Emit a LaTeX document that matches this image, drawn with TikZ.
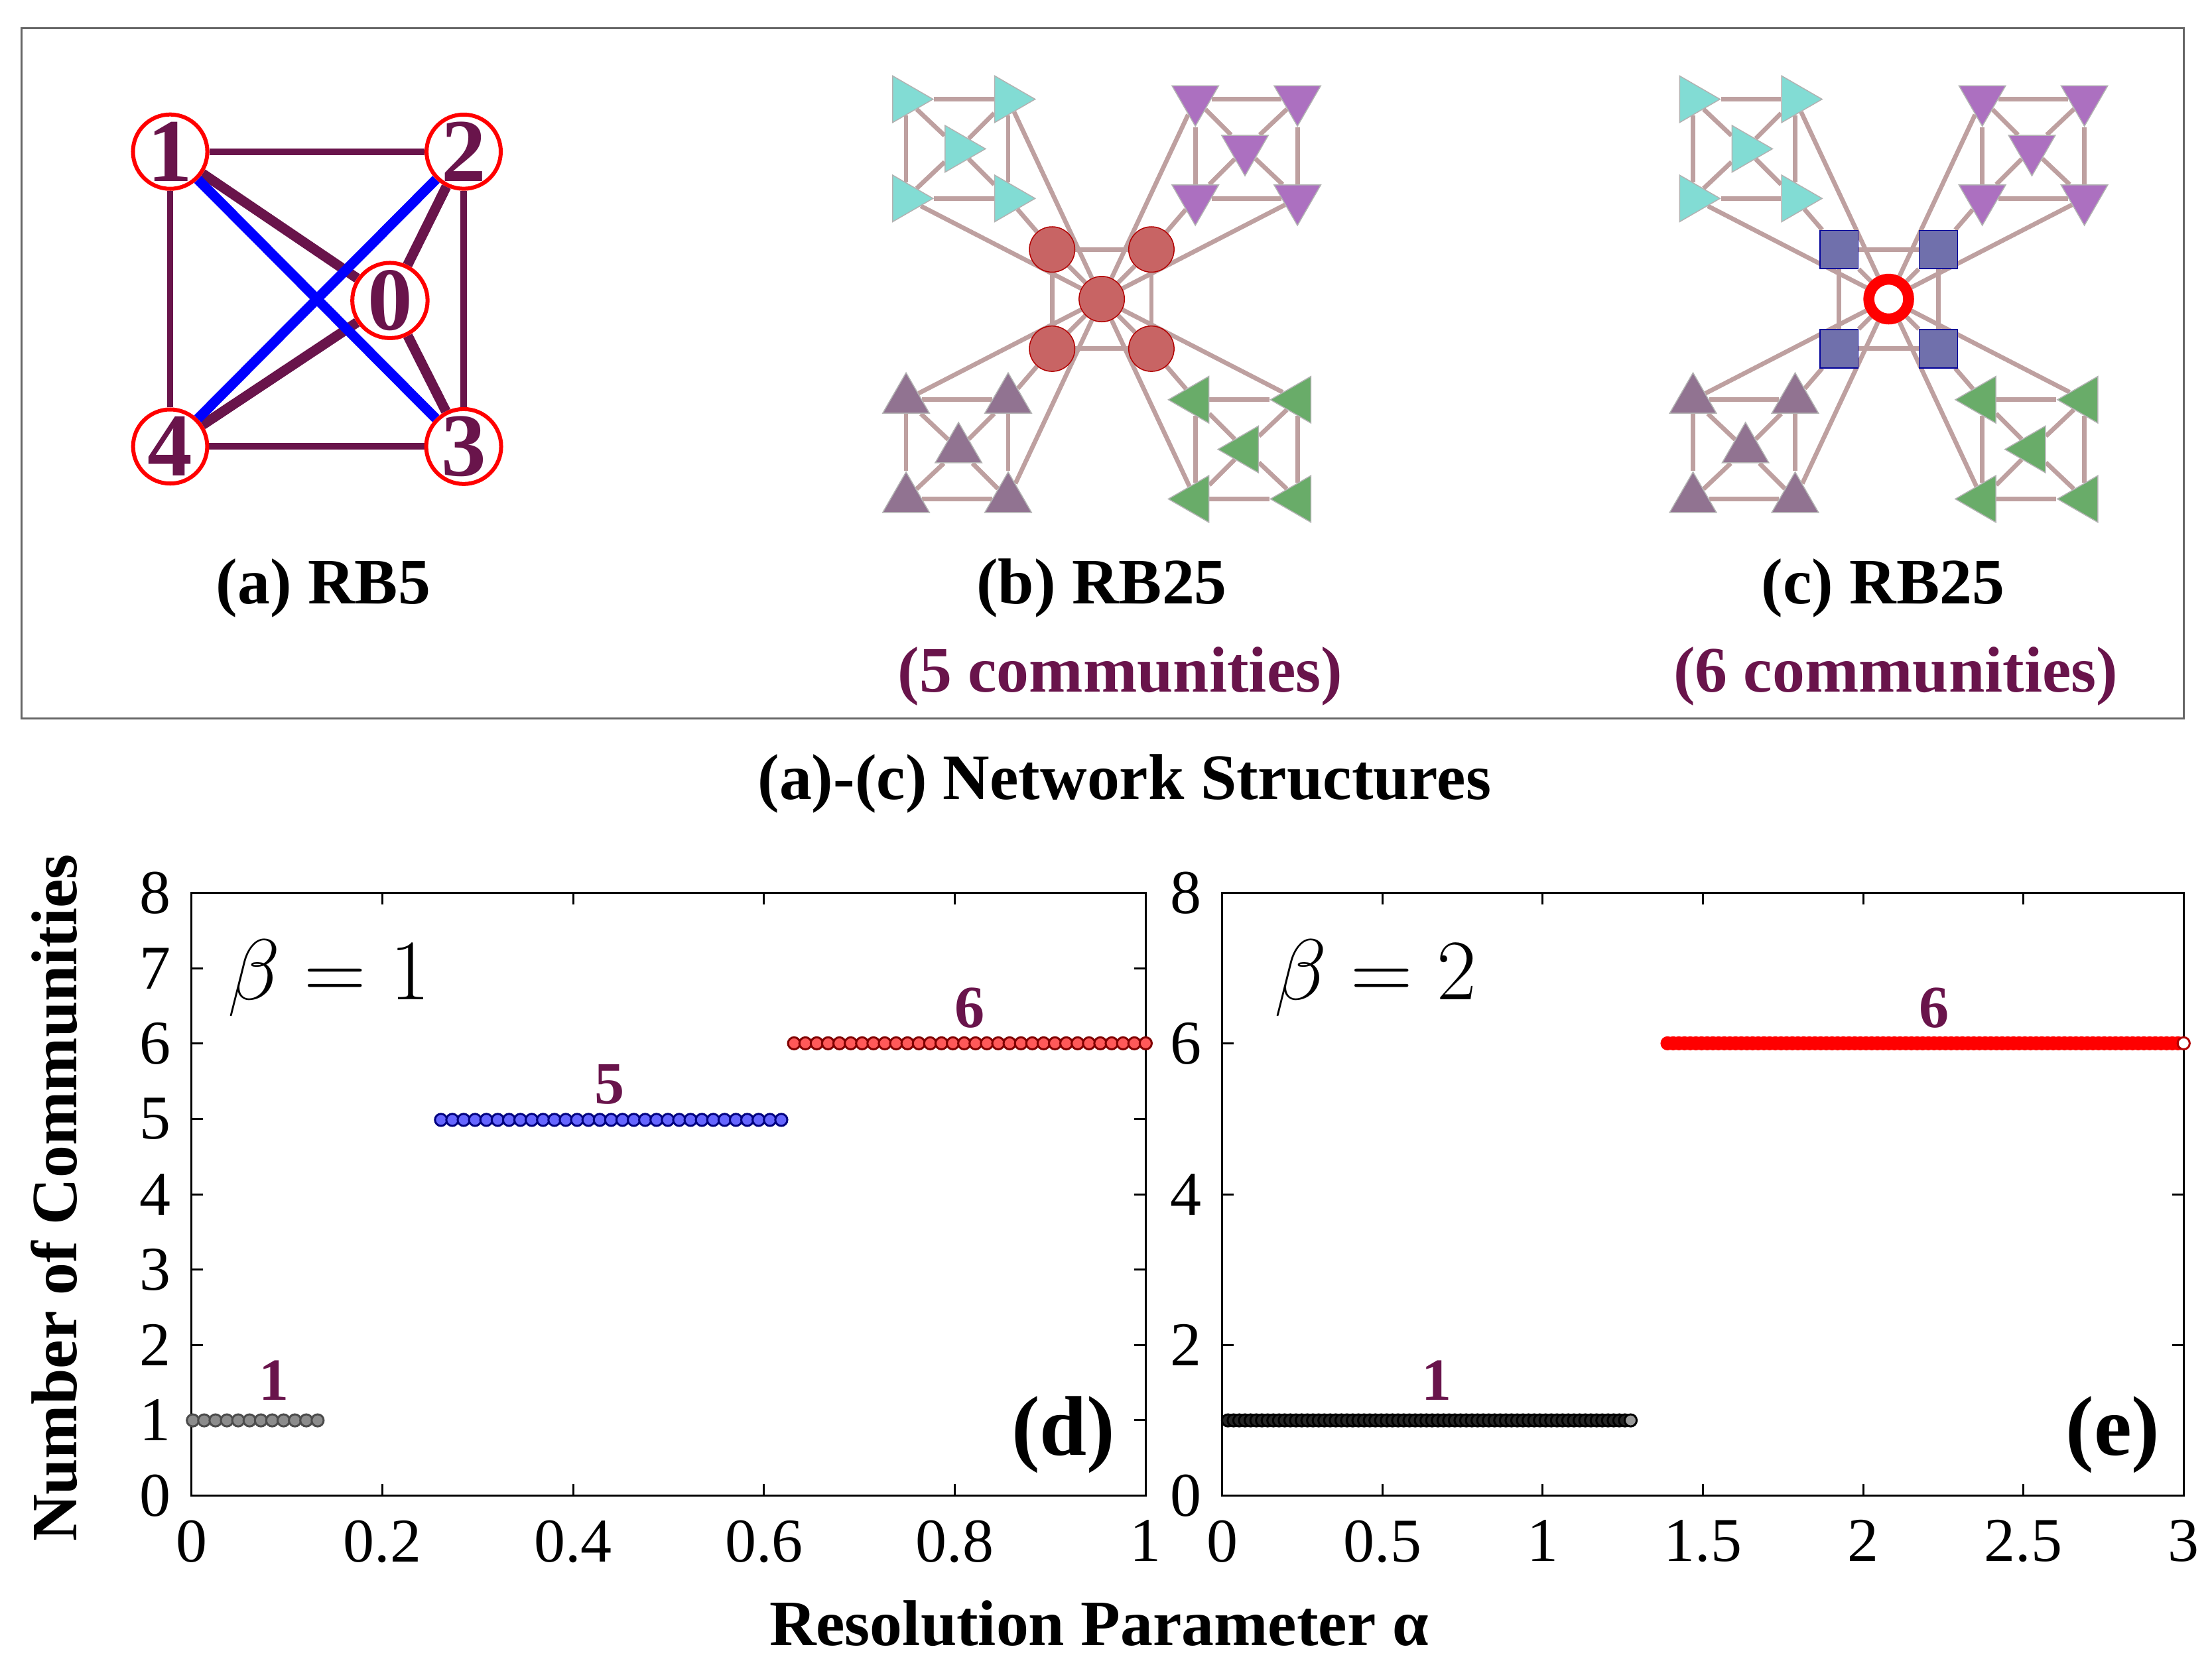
\documentclass[tikz,border=0pt]{standalone}
\usepackage{fontspec}
\setmainfont{Liberation Serif}
\usetikzlibrary{shapes.geometric,backgrounds}
\definecolor{plum}{RGB}{105,20,75}
\definecolor{edgepink}{RGB}{190,160,160}
\definecolor{cyantri}{RGB}{130,220,212}
\definecolor{violettri}{RGB}{172,112,192}
\definecolor{mauvetri}{RGB}{145,115,145}
\definecolor{greentri}{RGB}{105,172,105}
\definecolor{hubred}{RGB}{200,100,100}
\definecolor{hubblue}{RGB}{112,112,172}
\def\ymid{211}

% one RB25 network: prefix, centre x, hub style, centre style
\newcommand{\rbnet}[4]{%
    \node[#4] (#1-c) at (#2,\ymid) {};
    \foreach \q/\sx/\sy/\rot/\col in {1/-1/-1/-90/cyantri,2/1/-1/180/violettri,3/-1/1/0/mauvetri,4/1/1/90/greentri}{
        \node[#3] (#1-h\q) at (#2+\sx*35,\ymid+\sy*35) {};
        \node[tri,regular polygon rotate=\rot,fill=\col] (#1-\q a) at (#2+\sx*66,\ymid+\sy*71) {};
        \node[tri,regular polygon rotate=\rot,fill=\col] (#1-\q b) at (#2+\sx*138,\ymid+\sy*71) {};
        \node[tri,regular polygon rotate=\rot,fill=\col] (#1-\q c) at (#2+\sx*66,\ymid+\sy*141) {};
        \node[tri,regular polygon rotate=\rot,fill=\col] (#1-\q d) at (#2+\sx*138,\ymid+\sy*141) {};
        \node[tri,regular polygon rotate=\rot,fill=\col] (#1-\q m) at (#2+\sx*101,\ymid+\sy*106) {};
    }
    \begin{scope}[on background layer]
        \foreach \q in {1,...,4}{
            \draw[netedge] (#1-\q a) -- (#1-\q b) -- (#1-\q d) -- (#1-\q c) -- (#1-\q a);
            \foreach \k in {a,b,c,d}
                \draw[netedge] (#1-\q m) -- (#1-\q\k);
            \draw[netedge] (#1-\q a) -- (#1-h\q);
            \draw[netedge] (#1-\q b) -- (#1-c);
            \draw[netedge] (#1-\q c) -- (#1-c);
            \draw[netedge] (#1-h\q) -- (#1-c);
        }
        \draw[netedge] (#1-h1) -- (#1-h2) -- (#1-h4) -- (#1-h3) -- (#1-h1);
    \end{scope}
}

\begin{document}
\begin{tikzpicture}[x=0.01cm,y=-0.01cm]
    \tikzstyle{rbnode}=[circle,draw=red,thick,fill=white,minimum size=0.49cm,inner sep=0pt,
        text=plum,font=\fontsize{18}{18}\selectfont\bfseries]
    \tikzstyle{tri}=[regular polygon,regular polygon sides=3,minimum size=0.38cm,inner sep=0pt,draw=black!30,very thin]
    \tikzstyle{netedge}=[edgepink,line width=0.9pt]
    \tikzstyle{hubcirc}=[circle,fill=hubred,draw=red!70!black,very thin,minimum size=0.32cm,inner sep=0pt]
    \tikzstyle{hubsq}=[rectangle,fill=hubblue,draw=blue!60!black,very thin,minimum size=0.27cm,inner sep=0pt]
    \tikzstyle{hole}=[circle,fill=white,draw=red,line width=2.2pt,minimum size=0.28cm,inner sep=0pt]
    \tikzstyle{title}=[font=\fontsize{13}{15}\selectfont\bfseries]
    \tikzstyle{subtitle}=[title,text=plum]
    \tikzstyle{tick}=[font=\fontsize{12.5}{14}\selectfont]
    \tikzstyle{count}=[font=\fontsize{12}{14}\selectfont\bfseries,text=plum]
    \tikzstyle{dot}=[circle,minimum size=0.085cm,inner sep=0pt,line width=0.4pt]

    \useasboundingbox (0,0) rectangle (1560,1177);
    \draw[black!60] (15,20) rectangle (1540,507);

    % (a) RB5
    \node[rbnode] (n1) at (120,107) {1};
    \node[rbnode] (n2) at (327,107) {2};
    \node[rbnode] (n3) at (327,315) {3};
    \node[rbnode] (n4) at (120,315) {4};
    \node[rbnode] (n0) at (275,212) {0};
    \begin{scope}[on background layer]
        \draw[plum,line width=1.3pt] (n1) -- (n2) -- (n3) -- (n4) -- (n1);
        \foreach \k in {1,...,4}
            \draw[plum,line width=2pt] (n0) -- (n\k);
        \draw[blue,line width=2pt] (n1) -- (n3);
        \draw[blue,line width=2pt] (n2) -- (n4);
    \end{scope}

    % (b) and (c) RB25
    \rbnet{b}{777}{hubcirc}{hubcirc}
    \rbnet{c}{1332}{hubsq}{hole}

    \node[title] (ta) at (228,415) {(a) RB5};
    \node[title] (tb) at (777,415) {(b) RB25};
    \node[subtitle] (sb) at (790,477) {(5 communities)};
    \node[title] (tc) at (1328,415) {(c) RB25};
    \node[subtitle] (sc) at (1337,477) {(6 communities)};
    \node[title] (tall) at (793,553) {(a)-(c) Network Structures};

    % (d) beta = 1
    \draw (135,630) rectangle (808,1055);
    \foreach \n in {0,...,8}{
        \draw (135,1055-53.125*\n) -- ++(8,0);
        \draw (808,1055-53.125*\n) -- ++(-8,0);
        \node[tick,anchor=east] (yd-\n) at (133,1055-53.125*\n) {\n};
    }
    \foreach \a/\lab in {0/0,0.2/0.2,0.4/0.4,0.6/0.6,0.8/0.8,1/1}{
        \draw (135+673*\a,1055) -- ++(0,-8);
        \draw (135+673*\a,630) -- ++(0,8);
        \node[tick,anchor=north] (xd-\lab) at (135+673*\a,1060) {\lab};
    }
    \foreach \x [count=\i] in {136,144,...,225}
        \node[dot,fill=black!45,draw=black!70] (g-\i) at (\x,1002) {};
    \foreach \x [count=\i] in {311,319,...,553}
        \node[dot,fill=blue!60,draw=blue!50!black] (bl-\i) at (\x,790) {};
    \foreach \x [count=\i] in {560,568,...,808}
        \node[dot,fill=red!65,draw=red!50!black] (r-\i) at (\x,736) {};
    \node[count] (c1) at (193,974) {1};
    \node[count] (c5) at (430,765) {5};
    \node[count] (c6) at (684,711) {6};
    \node[font=\fontsize{18}{20}\selectfont] (bd) at (232,690) {$\beta=1$};
    \node[font=\fontsize{17}{19}\selectfont\bfseries] (pd) at (750,1012) {(d)};

    % (e) beta = 2
    \draw (862,630) rectangle (1540,1055);
    \foreach \n in {0,2,...,8}{
        \draw (862,1055-53.125*\n) -- ++(8,0);
        \draw (1540,1055-53.125*\n) -- ++(-8,0);
        \node[tick,anchor=east] (ye-\n) at (860,1055-53.125*\n) {\n};
    }
    \foreach \a/\lab in {0/0,0.5/0.5,1/1,1.5/1.5,2/2,2.5/2.5,3/3}{
        \draw (862+226*\a,1055) -- ++(0,-8);
        \draw (862+226*\a,630) -- ++(0,8);
        \node[tick,anchor=north] (xe-\lab) at (862+226*\a,1060) {\lab};
    }
    \foreach \x [count=\i] in {866,870,...,1146}
        \node[dot,fill=black!85,draw=black] (k-\i) at (\x,1002) {};
    \node[dot,fill=black!40,draw=black] (k-last) at (1150,1002) {};
    \foreach \x [count=\i] in {1176,1180,...,1536}
        \node[dot,fill=red,draw=red] (s-\i) at (\x,736) {};
    \node[dot,fill=white,draw=red!70!black] (s-last) at (1540,736) {};
    \node[count] (e1) at (1013,974) {1};
    \node[count] (e6) at (1364,711) {6};
    \node[font=\fontsize{18}{20}\selectfont] (be) at (970,690) {$\beta=2$};
    \node[font=\fontsize{17}{19}\selectfont\bfseries] (pe) at (1490,1012) {(e)};

    % axis titles
    \node[title,rotate=90] (ylab) at (38,845) {Number of Communities};
    \node[title] (xlab) at (775,1145) {Resolution Parameter α};
\end{tikzpicture}
\end{document}
